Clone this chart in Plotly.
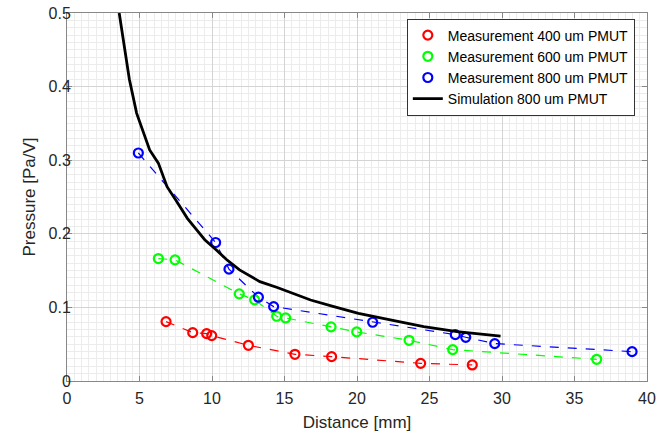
import plotly.graph_objects as go

# Measurement 400 um PMUT
x400 = [6.83, 8.67, 9.63, 9.98, 12.51, 15.72, 18.25, 24.39, 27.95]
y400 = [0.0807, 0.0657, 0.0644, 0.0617, 0.0485, 0.0363, 0.0331, 0.0240, 0.0218]

# Measurement 600 um PMUT
x600 = [6.30, 7.45, 11.88, 12.94, 14.46, 15.08, 18.21, 19.98, 23.59, 26.60, 36.53]
y600 = [0.1664, 0.1646, 0.1184, 0.1102, 0.0880, 0.0857, 0.0735, 0.0667, 0.0553, 0.0426, 0.0295]

# Measurement 800 um PMUT
x800 = [4.92, 10.25, 11.17, 13.20, 14.25, 21.08, 26.78, 27.50, 29.50, 38.97]
y800 = [0.3098, 0.1882, 0.1520, 0.1139, 0.1011, 0.0798, 0.0630, 0.0594, 0.0508, 0.0399]

# Simulation 800 um PMUT
xsim = [3.6, 3.9, 4.3, 4.8, 5.3, 5.7, 6.3, 6.9, 7.5, 8.3, 9.0, 9.5, 10.3, 11.0, 11.9,
        13.3, 14.5, 15.2, 16.8, 18.4, 20.1, 22.3, 24.6, 26.9, 28.5, 29.9]
ysim = [0.5, 0.46, 0.41, 0.364, 0.335, 0.314, 0.296, 0.264, 0.246, 0.221, 0.204, 0.192,
        0.178, 0.165, 0.151, 0.135, 0.127, 0.1215, 0.110, 0.101, 0.092, 0.083, 0.074,
        0.067, 0.064, 0.061]

x_ticks = [0, 5, 10, 15, 20, 25, 30, 35, 40]
y_ticks = [0, 0.1, 0.2, 0.3, 0.4, 0.5]

FONT = "Liberation Sans, Arial, sans-serif"
fig = go.Figure()

series = [
    ("Measurement 400 um PMUT", x400, y400, "#FF0000"),
    ("Measurement 600 um PMUT", x600, y600, "#00FF00"),
    ("Measurement 800 um PMUT", x800, y800, "#0000FF"),
]
for name, xs, ys, c in series:
    fig.add_trace(go.Scatter(x=xs, y=ys, mode="lines", showlegend=False,
                             line=dict(color=c, width=1.2, dash="dash"), hoverinfo="skip"))
for name, xs, ys, c in series:
    fig.add_trace(go.Scatter(x=xs, y=ys, mode="markers", name=name,
                             marker=dict(symbol="circle-open", size=9, color=c,
                                         line=dict(width=2.2, color=c))))

fig.add_trace(go.Scatter(x=xsim, y=ysim, mode="lines", name="Simulation 800 um PMUT",
                         line=dict(color="black", width=2.8)))

axis_common = dict(
    showline=True, linecolor="#888888", linewidth=1, mirror="allticks",
    ticks="inside", ticklen=5, tickcolor="#888888",
    showgrid=True, gridcolor="#d4d4d4", gridwidth=1, zeroline=False,
    tickfont=dict(family=FONT, size=16, color="#262626"),
    automargin=False,
)

fig.update_xaxes(range=[0, 40], tickvals=x_ticks, ticktext=[str(v) for v in x_ticks],
                 title=dict(text="Distance [mm]", font=dict(family=FONT, size=17, color="#262626"), standoff=9),
                 ticklabelstandoff=3,
                 minor=dict(dtick=0.5, showgrid=True, gridcolor="#ececec", ticks=""),
                 **axis_common)
fig.update_yaxes(range=[0, 0.5], tickvals=y_ticks, ticktext=["0", "0.1", "0.2", "0.3", "0.4", "0.5"],
                 title=dict(text="Pressure [Pa/V]", font=dict(family=FONT, size=17, color="#262626"), standoff=8),
                 ticklabelstandoff=-8,
                 minor=dict(dtick=0.01, showgrid=True, gridcolor="#ececec", ticks=""),
                 **axis_common)

fig.update_layout(
    width=672, height=435,
    margin=dict(l=67, r=25, t=13, b=54),
    plot_bgcolor="white", paper_bgcolor="white",
    font=dict(family=FONT, color="#262626"),
    legend=dict(x=0.979, y=0.985, xanchor="right", yanchor="top",
                bgcolor="white", bordercolor="#333333", borderwidth=1,
                font=dict(family=FONT, size=14, color="#000000"),
                tracegroupgap=0, itemwidth=30),
)

fig.write_html("out.html")
